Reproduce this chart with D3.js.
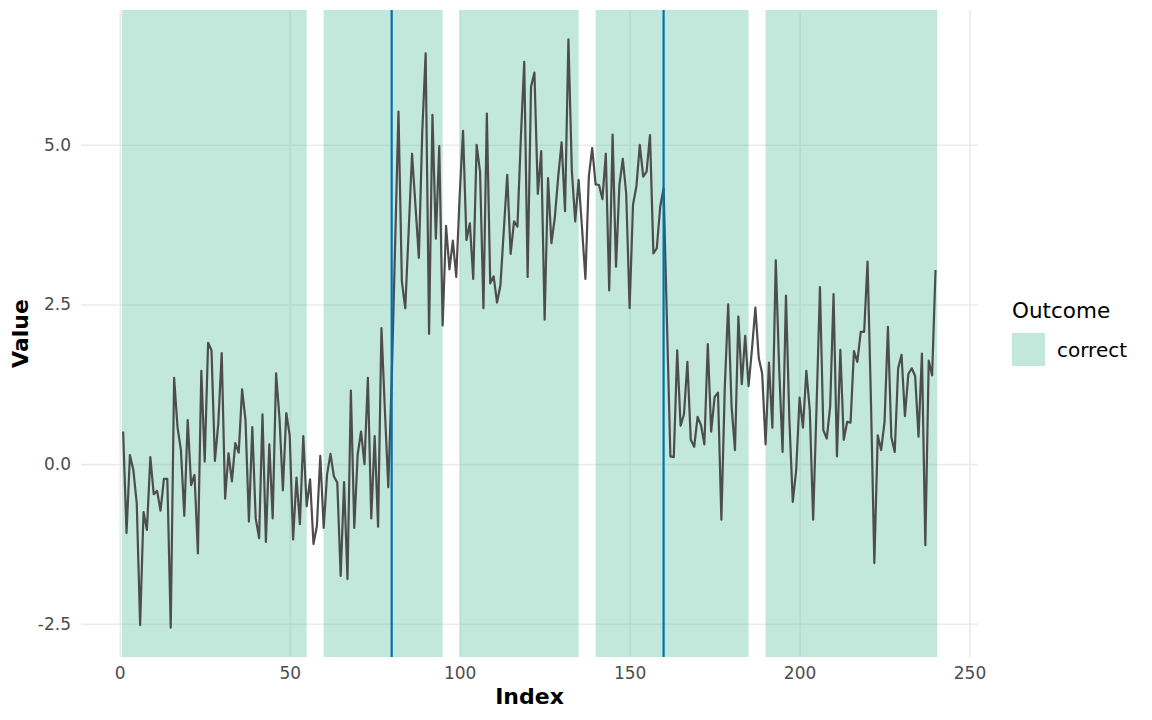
<!DOCTYPE html>
<html>
<head>
<meta charset="utf-8">
<script src="https://d3js.org/d3.v7.min.js"></script>
<style>
  body { margin: 0; background: #fff; }
  svg text { font-family: "DejaVu Sans", sans-serif; }
</style>
</head>
<body>
<div id="chart"></div>
<script>
// values for index 1..240
const values = [
  0.51, -1.08, 0.14, -0.09, -0.61, -2.52, -0.75, -1.03, 0.11, -0.47,
  -0.42, -0.73, -0.23, -0.23, -2.56, 1.35, 0.58, 0.22, -0.81, 0.69,
  -0.33, -0.17, -1.40, 1.46, 0.04, 1.90, 1.78, 0.05, 0.64, 1.74,
  -0.54, 0.17, -0.27, 0.33, 0.18, 1.17, 0.69, -0.90, 0.58, -0.85,
  -1.16, 0.78, -1.22, 0.31, -0.85, 1.42, 0.72, -0.41, 0.80, 0.45,
  -1.18, -0.21, -0.94, 0.44, -0.66, -0.24, -1.25, -0.97, 0.13, -1.00,
  -0.16, 0.16, -0.19, -0.29, -1.75, -0.28, -1.80, 1.15, -1.00, 0.15,
  0.51, 0.00, 1.35, -0.85, 0.44, -0.98, 2.13, 0.85, -0.36, 1.30,
  3.40, 5.52, 2.86, 2.44, 3.65, 4.86, 4.05, 3.23, 5.20, 6.43,
  2.04, 5.47, 3.53, 4.98, 2.17, 3.73, 3.05, 3.50, 2.93, 4.20,
  5.22, 3.51, 3.77, 2.90, 5.00, 4.58, 2.44, 5.49, 2.83, 2.94,
  2.53, 2.80, 3.67, 4.53, 3.29, 3.80, 3.72, 5.10, 6.30, 2.93,
  5.91, 6.13, 4.23, 4.90, 2.26, 4.48, 3.46, 3.86, 4.50, 5.04,
  3.96, 6.65, 4.60, 3.80, 4.45, 3.70, 2.90, 4.50, 4.95, 4.38,
  4.37, 4.15, 4.86, 2.72, 5.16, 3.09, 4.37, 4.78, 4.24, 2.44,
  4.06, 4.35, 5.00, 4.50, 4.58, 5.15, 3.30, 3.38, 4.03, 4.32,
  2.20, 0.12, 0.11, 1.78, 0.60, 0.78, 1.60, 0.38, 0.27, 0.74,
  0.61, 0.31, 1.88, 0.51, 1.05, 1.12, -0.87, 1.20, 2.50, 0.90,
  0.22, 2.31, 1.25, 2.01, 1.22, 1.80, 2.45, 1.66, 1.42, 0.31,
  1.59, 0.57, 3.19, 1.50, 0.19, 2.64, 0.70, -0.59, -0.10, 1.04,
  0.57, 1.46, 0.85, -0.87, 0.90, 2.77, 0.53, 0.40, 0.90, 2.66,
  0.12, 1.79, 0.38, 0.66, 0.65, 1.77, 1.60, 2.07, 2.07, 3.17,
  1.00, -1.55, 0.45, 0.22, 0.66, 2.15, 0.42, 0.19, 1.50, 1.71,
  0.75, 1.41, 1.50, 1.38, 0.43, 1.73, -1.27, 1.62, 1.39, 3.04
];

// shaded windows (all "correct")
const bandStart = [0.6, 60, 100, 140, 190];
const bandEnd = [55, 95, 135, 185, 240.5];
const bandOutcome = ["correct", "correct", "correct", "correct", "correct"];

// vertical marker lines
const changePoints = [80, 160];

const xTicks = [0, 50, 100, 150, 200, 250];
const yTicks = [-2.5, 0, 2.5, 5];

const width = 1152;
const height = 720;
const margin = { top: 10, right: 174, bottom: 63, left: 81 };

const data = values.map((v, i) => ({ index: i + 1, value: v }));
const bands = bandStart.map((s, i) => ({ start: s, end: bandEnd[i], outcome: bandOutcome[i] }));

const svg = d3.select('#chart')
  .append('svg')
  .attr('width', width)
  .attr('height', height);

// ggplot style 5% expansion
const xMin = Math.min(d3.min(bandStart), 1);
const xMax = Math.max(d3.max(bandEnd), data.length);
const xPad = (xMax - xMin) * 0.05;
const xScale = d3.scaleLinear()
  .domain([xMin - xPad, xMax + xPad])
  .range([margin.left, width - margin.right]);

const yExt = d3.extent(values);
const yPad = (yExt[1] - yExt[0]) * 0.05;
const yScale = d3.scaleLinear()
  .domain([yExt[0] - yPad, yExt[1] + yPad])
  .range([height - margin.bottom, margin.top]);

const panelW = width - margin.left - margin.right;
const panelH = height - margin.top - margin.bottom;

// grid lines
svg.append('g')
  .attr('transform', `translate(${margin.left},0)`)
  .call(d3.axisLeft(yScale).tickValues(yTicks).tickSize(-panelW).tickFormat(''))
  .call((g) => g.select('.domain').remove())
  .call((g) => g.selectAll('line').attr('stroke', '#ebebeb').attr('stroke-width', 1.6));

svg.append('g')
  .attr('transform', `translate(0,${height - margin.bottom})`)
  .call(d3.axisBottom(xScale).tickValues(xTicks).tickSize(-panelH).tickFormat(''))
  .call((g) => g.select('.domain').remove())
  .call((g) => g.selectAll('line').attr('stroke', '#ebebeb').attr('stroke-width', 1.6));

// shaded windows
svg.append('g')
  .selectAll('rect')
  .data(bands)
  .enter()
  .append('rect')
  .attr('x', (d) => xScale(d.start))
  .attr('width', (d) => xScale(d.end) - xScale(d.start))
  .attr('y', margin.top)
  .attr('height', panelH)
  .attr('fill', '#66c2a5')
  .attr('fill-opacity', 0.4);

// the series
const line = d3.line()
  .x((d) => xScale(d.index))
  .y((d) => yScale(d.value));

svg.append('path')
  .datum(data)
  .attr('fill', 'none')
  .attr('stroke', '#4d4d4d')
  .attr('stroke-width', 2.2)
  .attr('stroke-linejoin', 'round')
  .attr('d', line);

// vertical markers
svg.append('g')
  .selectAll('line')
  .data(changePoints)
  .enter()
  .append('line')
  .attr('x1', (d) => xScale(d))
  .attr('x2', (d) => xScale(d))
  .attr('y1', margin.top)
  .attr('y2', height - margin.bottom)
  .attr('stroke', '#0072B2')
  .attr('stroke-width', 2.2);

// axes labels
svg.append('g')
  .attr('transform', `translate(${margin.left},0)`)
  .call(d3.axisLeft(yScale).tickValues(yTicks).tickSize(0).tickPadding(10)
    .tickFormat((d) => d.toFixed(1)))
  .call((g) => g.select('.domain').remove())
  .call((g) => g.selectAll('text').attr('fill', '#4d4d4d').style('font-size', '17px'));

svg.append('g')
  .attr('transform', `translate(0,${height - margin.bottom})`)
  .call(d3.axisBottom(xScale).tickValues(xTicks).tickSize(0).tickPadding(10))
  .call((g) => g.select('.domain').remove())
  .call((g) => g.selectAll('text').attr('fill', '#4d4d4d').style('font-size', '17px'));

// axis titles
svg.append('text')
  .attr('x', margin.left + panelW / 2)
  .attr('y', 704)
  .attr('text-anchor', 'middle')
  .style('font-size', '22px')
  .style('font-weight', 'bold')
  .text('Index');

svg.append('text')
  .attr('transform', `translate(28,${margin.top + panelH / 2}) rotate(-90)`)
  .attr('text-anchor', 'middle')
  .style('font-size', '22px')
  .style('font-weight', 'bold')
  .text('Value');

// legend
const legend = svg.append('g').attr('transform', 'translate(1012,0)');

legend.append('text')
  .attr('x', 0)
  .attr('y', 318)
  .style('font-size', '21.5px')
  .text('Outcome');

legend.append('rect')
  .attr('x', 0)
  .attr('y', 333)
  .attr('width', 33)
  .attr('height', 33)
  .attr('fill', '#66c2a5')
  .attr('fill-opacity', 0.4);

legend.append('text')
  .attr('x', 45)
  .attr('y', 357)
  .style('font-size', '20px')
  .text('correct');
</script>
</body>
</html>
